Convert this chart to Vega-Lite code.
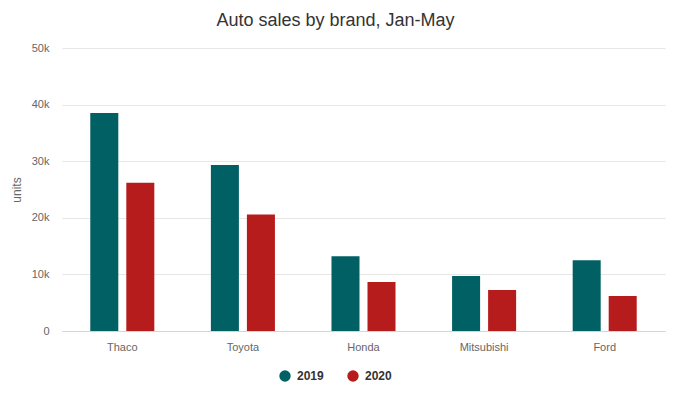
{
  "$schema": "https://vega.github.io/schema/vega-lite/v6.json",
  "width": 603,
  "height": 283,
  "autosize": {"type": "none"},
  "padding": {"left": 62, "top": 48, "right": 14, "bottom": 68},
  "background": "#ffffff",
  "title": {
    "text": "Auto sales by brand, Jan-May",
    "anchor": "middle",
    "frame": "group",
    "dx": -28,
    "fontSize": 18,
    "font": "Liberation Sans",
    "fontWeight": "normal",
    "color": "#333333",
    "offset": 12
  },
  "data": {
    "values": [
      {"brand": "Thaco", "year": "2019", "units": 38500},
      {"brand": "Thaco", "year": "2020", "units": 26200},
      {"brand": "Toyota", "year": "2019", "units": 29350},
      {"brand": "Toyota", "year": "2020", "units": 20580},
      {"brand": "Honda", "year": "2019", "units": 13200},
      {"brand": "Honda", "year": "2020", "units": 8650},
      {"brand": "Mitsubishi", "year": "2019", "units": 9700},
      {"brand": "Mitsubishi", "year": "2020", "units": 7250},
      {"brand": "Ford", "year": "2019", "units": 12500},
      {"brand": "Ford", "year": "2020", "units": 6200}
    ]
  },
  "mark": {"type": "bar"},
  "encoding": {
    "x": {
      "field": "brand",
      "type": "nominal",
      "sort": ["Thaco", "Toyota", "Honda", "Mitsubishi", "Ford"],
      "scale": {"paddingInner": 0.469, "paddingOuter": 0.2345},
      "axis": {
        "title": null,
        "labelAngle": 0,
        "labelColor": "#666666",
        "labelFontSize": 11,
        "labelFont": "Liberation Sans",
        "labelPadding": 10,
        "ticks": false,
        "domainColor": "#ccd6eb",
        "grid": false
      }
    },
    "xOffset": {
      "field": "year",
      "type": "nominal",
      "scale": {"paddingInner": 0.222, "paddingOuter": 0}
    },
    "y": {
      "field": "units",
      "type": "quantitative",
      "scale": {"domain": [0, 50000], "nice": false},
      "axis": {
        "title": "units",
        "titleColor": "#666666",
        "titleFont": "Liberation Sans",
        "titleFontSize": 12,
        "titleFontWeight": "normal",
        "titlePadding": 8,
        "values": [0, 10000, 20000, 30000, 40000, 50000],
        "labelExpr": "datum.value == 0 ? '0' : format(datum.value / 1000, 'd') + 'k'",
        "labelColor": "#666666",
        "labelFontSize": 11,
        "labelFont": "Liberation Sans",
        "labelPadding": 13,
        "ticks": false,
        "domain": false,
        "gridColor": "#e6e6e6"
      }
    },
    "color": {
      "field": "year",
      "type": "nominal",
      "scale": {"domain": ["2019", "2020"], "range": ["#006064", "#b71c1c"]},
      "legend": {
        "title": null,
        "orient": "none",
        "direction": "horizontal",
        "legendX": 217,
        "legendY": 322,
        "symbolType": "circle",
        "symbolSize": 130,
        "symbolStrokeWidth": 0,
        "labelFontWeight": "bold",
        "labelFontSize": 12,
        "labelFont": "Liberation Sans",
        "labelColor": "#333333",
        "columnPadding": 23,
        "labelOffset": 6
      }
    }
  },
  "config": {
    "view": {"stroke": null}
  }
}
